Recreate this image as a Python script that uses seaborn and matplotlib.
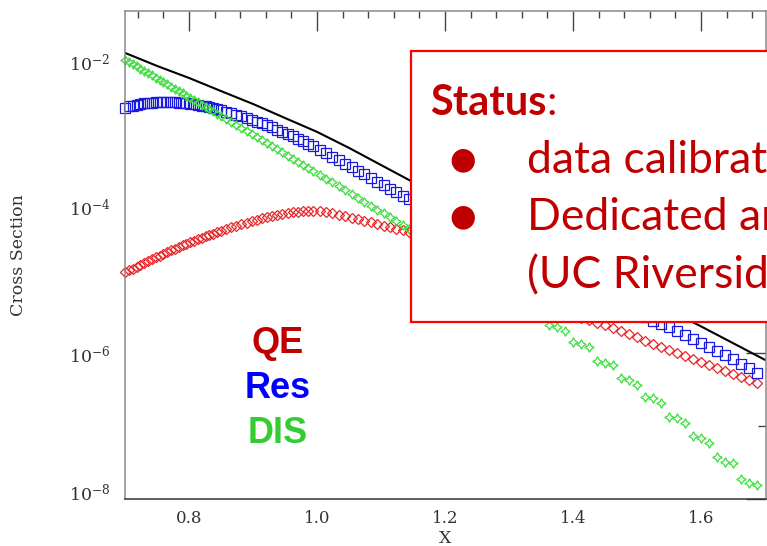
import numpy as np
import pandas as pd
import matplotlib
matplotlib.use("Agg")
import matplotlib.pyplot as plt
import seaborn as sns
from matplotlib.patches import Rectangle
from matplotlib.ticker import FixedLocator, FixedFormatter, MultipleLocator, NullFormatter
import matplotlib.transforms as mtransforms

# ---------------- data ----------------
x_grid = [0.700, 0.706, 0.712, 0.718, 0.724, 0.730, 0.736, 0.742, 0.748, 0.754,
          0.760, 0.766, 0.772, 0.778, 0.784, 0.790, 0.796, 0.802, 0.808, 0.814,
          0.820, 0.826, 0.832, 0.838, 0.844, 0.850,
          0.858, 0.866, 0.874, 0.882, 0.890, 0.898, 0.906, 0.914, 0.922, 0.930,
          0.938, 0.946, 0.954, 0.962, 0.970, 0.978, 0.986, 0.994,
          1.004, 1.014, 1.024, 1.034, 1.044, 1.054, 1.064, 1.074, 1.084, 1.094,
          1.104, 1.114, 1.124, 1.134, 1.144,
          1.160, 1.185, 1.210, 1.235, 1.260, 1.285, 1.310,
          1.3250, 1.3375, 1.3500, 1.3625, 1.3750, 1.3875, 1.4000, 1.4125, 1.4250, 1.4375,
          1.4500, 1.4625, 1.4750, 1.4875, 1.5000, 1.5125, 1.5250, 1.5375, 1.5500, 1.5625,
          1.5750, 1.5875, 1.6000, 1.6125, 1.6250, 1.6375, 1.6500, 1.6625, 1.6750, 1.6875]

qe_log10 = [-4.890, -4.863, -4.836, -4.810, -4.784, -4.758, -4.733, -4.708, -4.684, -4.659,
            -4.635, -4.611, -4.587, -4.564, -4.541, -4.519, -4.497, -4.476, -4.455, -4.434,
            -4.414, -4.394, -4.375, -4.356, -4.338, -4.320,
            -4.295, -4.271, -4.248, -4.226, -4.205, -4.185, -4.166, -4.148, -4.131, -4.115,
            -4.101, -4.088, -4.076, -4.065, -4.056, -4.049, -4.045, -4.044,
            -4.050, -4.062, -4.078, -4.097, -4.117, -4.138, -4.160, -4.182, -4.204, -4.226,
            -4.248, -4.270, -4.292, -4.314, -4.336,
            -4.375, -4.452, -4.545, -4.655, -4.780, -4.915, -5.050,
            -5.130, -5.200, -5.265, -5.325, -5.380, -5.430, -5.475, -5.515, -5.548, -5.578,
            -5.615, -5.657, -5.699, -5.741, -5.783, -5.825, -5.866, -5.908, -5.950, -5.992,
            -6.033, -6.075, -6.117, -6.158, -6.200, -6.241, -6.283, -6.325, -6.367, -6.410]

res_log10 = [-2.630, -2.610, -2.600, -2.585, -2.575, -2.570, -2.565, -2.560, -2.555, -2.552,
             -2.550, -2.550, -2.552, -2.555, -2.558, -2.562, -2.567, -2.573, -2.580, -2.590,
             -2.600, -2.610, -2.623, -2.636, -2.650, -2.665,
             -2.684, -2.704, -2.725, -2.747, -2.770, -2.794, -2.819, -2.845, -2.872, -2.900,
             -2.929, -2.959, -2.990, -3.022, -3.055, -3.089, -3.124, -3.160,
             -3.207, -3.253, -3.300, -3.348, -3.397, -3.446, -3.495, -3.544, -3.593, -3.642,
             -3.691, -3.740, -3.789, -3.838, -3.887,
             -3.955, -4.065, -4.175, -4.285, -4.395, -4.505, -4.615,
             -4.680, -4.735, -4.790, -4.845, -4.900, -4.955, -5.010, -5.065, -5.120, -5.175,
             -5.230, -5.285, -5.340, -5.395, -5.450, -5.500, -5.550, -5.600, -5.645, -5.700,
             -5.755, -5.810, -5.865, -5.920, -5.975, -6.030, -6.085, -6.145, -6.205, -6.270]

dis_log10 = [-1.970, -2.001, -2.031, -2.062, -2.092, -2.123, -2.154, -2.185, -2.216, -2.246,
             -2.277, -2.308, -2.339, -2.370, -2.400, -2.431, -2.462, -2.493, -2.524, -2.555,
             -2.586, -2.617, -2.648, -2.680, -2.711, -2.742,
             -2.783, -2.825, -2.867, -2.908, -2.950, -2.992, -3.033, -3.075, -3.117, -3.159,
             -3.201, -3.243, -3.285, -3.327, -3.369, -3.411, -3.453, -3.495,
             -3.548, -3.601, -3.654, -3.707, -3.760, -3.813, -3.866, -3.919, -3.973, -4.026,
             -4.079, -4.133, -4.186, -4.240, -4.294,
             -4.390, -4.540, -4.690, -4.845, -5.000, -5.155, -5.310,
             -5.400, -5.430, -5.470, -5.610, -5.640, -5.690, -5.840, -5.870, -5.920, -6.100,
             -6.130, -6.165, -6.340, -6.370, -6.435, -6.600, -6.615, -6.685, -6.875, -6.890,
             -6.960, -7.135, -7.165, -7.235, -7.425, -7.490, -7.510, -7.725, -7.780, -7.810]

x_total = [0.70, 0.75, 0.80, 0.85, 0.90, 0.95, 1.00, 1.05, 1.10, 1.15, 1.20,
           1.25, 1.30, 1.35, 1.40, 1.45, 1.50, 1.55, 1.60, 1.65, 1.70]
total_log10 = [-1.876, -2.055, -2.220, -2.400, -2.577, -2.770, -2.960, -3.180, -3.415, -3.650, -3.870,
               -4.090, -4.310, -4.530, -4.750, -4.970, -5.190, -5.410, -5.630, -5.860, -6.090]

x_ticks = [0.8, 1.0, 1.2, 1.4, 1.6]
x_tick_labels = ["0.8", "1.0", "1.2", "1.4", "1.6"]
y_ticks = [1e-8, 1e-6, 1e-4, 1e-2]
y_tick_labels = [r"$\mathregular{10^{-8}}$", r"$\mathregular{10^{-6}}$",
                 r"$\mathregular{10^{-4}}$", r"$\mathregular{10^{-2}}$"]
y_minor_ticks = [1e-7, 1e-5, 1e-3]
x_label = "X"
y_label = "Cross Section"
channel_labels = ["QE", "Res", "DIS"]
status_title = "Status"
status_lines = ["data calibration", "Dedicated analysis", "(UC Riverside)"]

# ---------------- figure ----------------
sns.set_style("white")
plt.rcParams["font.family"] = ["DejaVu Serif", "DejaVu Sans"]

W, H = 767, 546
fig = plt.figure(figsize=(W / 100, H / 100), dpi=100)
ax = fig.add_axes([125 / W, (H - 499) / H, 641 / W, 488 / H])
ax.set_yscale("log")

df = pd.DataFrame({"x": x_grid,
                   "QE": np.power(10.0, qe_log10),
                   "Res": np.power(10.0, res_log10),
                   "DIS": np.power(10.0, dis_log10)})
df_tot = pd.DataFrame({"x": x_total, "total": np.power(10.0, total_log10)})

common = dict(ax=ax, estimator=None, sort=False, linestyle="none", clip_on=False)
sns.lineplot(data=df, x="x", y="QE", marker="D", markersize=5.4,
             markerfacecolor="none", markeredgecolor="#e8262a", markeredgewidth=0.9,
             color="#e8262a", **common)
sns.lineplot(data=df, x="x", y="Res", marker="s", markersize=6.8,
             markerfacecolor="none", markeredgecolor="#1a1adf", markeredgewidth=0.9,
             color="#1a1adf", **common)
sns.lineplot(data=df, x="x", y="DIS", marker=(4, 1, 0), markersize=6.8,
             markerfacecolor="none", markeredgecolor="#3ddc3d", markeredgewidth=0.9,
             color="#3ddc3d", **common)
sns.lineplot(data=df_tot, x="x", y="total", color="black", linewidth=1.5,
             ax=ax, estimator=None, sort=False)

ax.set_xlim(0.70, 1.7016)
ax.set_ylim(1e-8, 5.0e-2)

ax.xaxis.set_major_locator(FixedLocator(x_ticks))
ax.xaxis.set_major_formatter(FixedFormatter(x_tick_labels))
ax.xaxis.set_minor_locator(MultipleLocator(0.04))
ax.xaxis.set_minor_formatter(NullFormatter())
ax.yaxis.set_major_locator(FixedLocator(y_ticks))
ax.yaxis.set_major_formatter(FixedFormatter(y_tick_labels))
ax.yaxis.set_minor_locator(FixedLocator(y_minor_ticks))
ax.yaxis.set_minor_formatter(NullFormatter())

tick_col = "#444444"
ax.tick_params(which="both", direction="in", top=True, right=True,
               color=tick_col, width=1.0, labelcolor="#333333")
ax.tick_params(which="major", length=14.5)
ax.tick_params(axis="x", which="minor", length=5.0)
ax.tick_params(axis="y", which="minor", length=5.8)
ax.tick_params(axis="x", which="major", pad=8, labelsize=12)
ax.tick_params(axis="y", which="major", pad=10.5, labelsize=12.5)

for side, col in (("left", "#8a8a8a"), ("top", "#8a8a8a"),
                  ("right", "#8a8a8a"), ("bottom", "#333333")):
    ax.spines[side].set_color(col)
    ax.spines[side].set_linewidth(1.1)

ax.set_xlabel(x_label, fontsize=12.5, color="#333333")
ax.set_ylabel(y_label, fontsize=12.5, color="#333333")
ax.xaxis.set_label_coords(0.5, -0.064)
ax.yaxis.set_label_coords(-0.153, 0.5)

# bottom y tick label lifted a little, as in the original
lab0 = ax.yaxis.get_major_ticks()[0].label1
lab0.set_transform(lab0.get_transform() +
                   mtransforms.ScaledTranslation(0, 8 / 100, fig.dpi_scale_trans))

# channel labels
for name, col, yb in zip(channel_labels, ["#c00000", "#0000ff", "#33cc33"], [353, 398, 443]):
    fig.text(277.5 / W, 1 - yb / H, name, ha="center", va="baseline",
             fontsize=26, fontweight="bold", color=col, family=["Liberation Sans", "DejaVu Sans"])

# status box
box = Rectangle((411 / W, 1 - 322 / H), (900 - 411) / W, (322 - 51) / H,
                transform=fig.transFigure, facecolor="white", edgecolor="#ff0000",
                linewidth=1.6, zorder=10)
fig.add_artist(box)

dark_red = "#c00000"
t = fig.text(430 / W, 1 - 115 / H, status_title, ha="left", va="baseline", fontsize=30,
             fontweight="bold", color=dark_red, family=["Lato", "DejaVu Sans"], zorder=11)
fig.canvas.draw()
bb = t.get_window_extent()
fig.text(bb.x1 / W, 1 - 115 / H, ":", ha="left", va="baseline", fontsize=30,
         color=dark_red, family=["Lato", "DejaVu Sans"], zorder=11)

for txt, yb, bullet in zip(status_lines, [173, 230, 288], [True, True, False]):
    if bullet:
        fig.text(463 / W, 1 - (yb - 13) / H, "\u25cf", ha="center", va="center",
                 fontsize=22, color=dark_red, family=["DejaVu Sans"], zorder=11)
    fig.text(527 / W, 1 - yb / H, txt, ha="left", va="baseline", fontsize=32,
             color=dark_red, family=["Lato", "DejaVu Sans"], zorder=11)

fig.savefig("out.png", dpi=100)
